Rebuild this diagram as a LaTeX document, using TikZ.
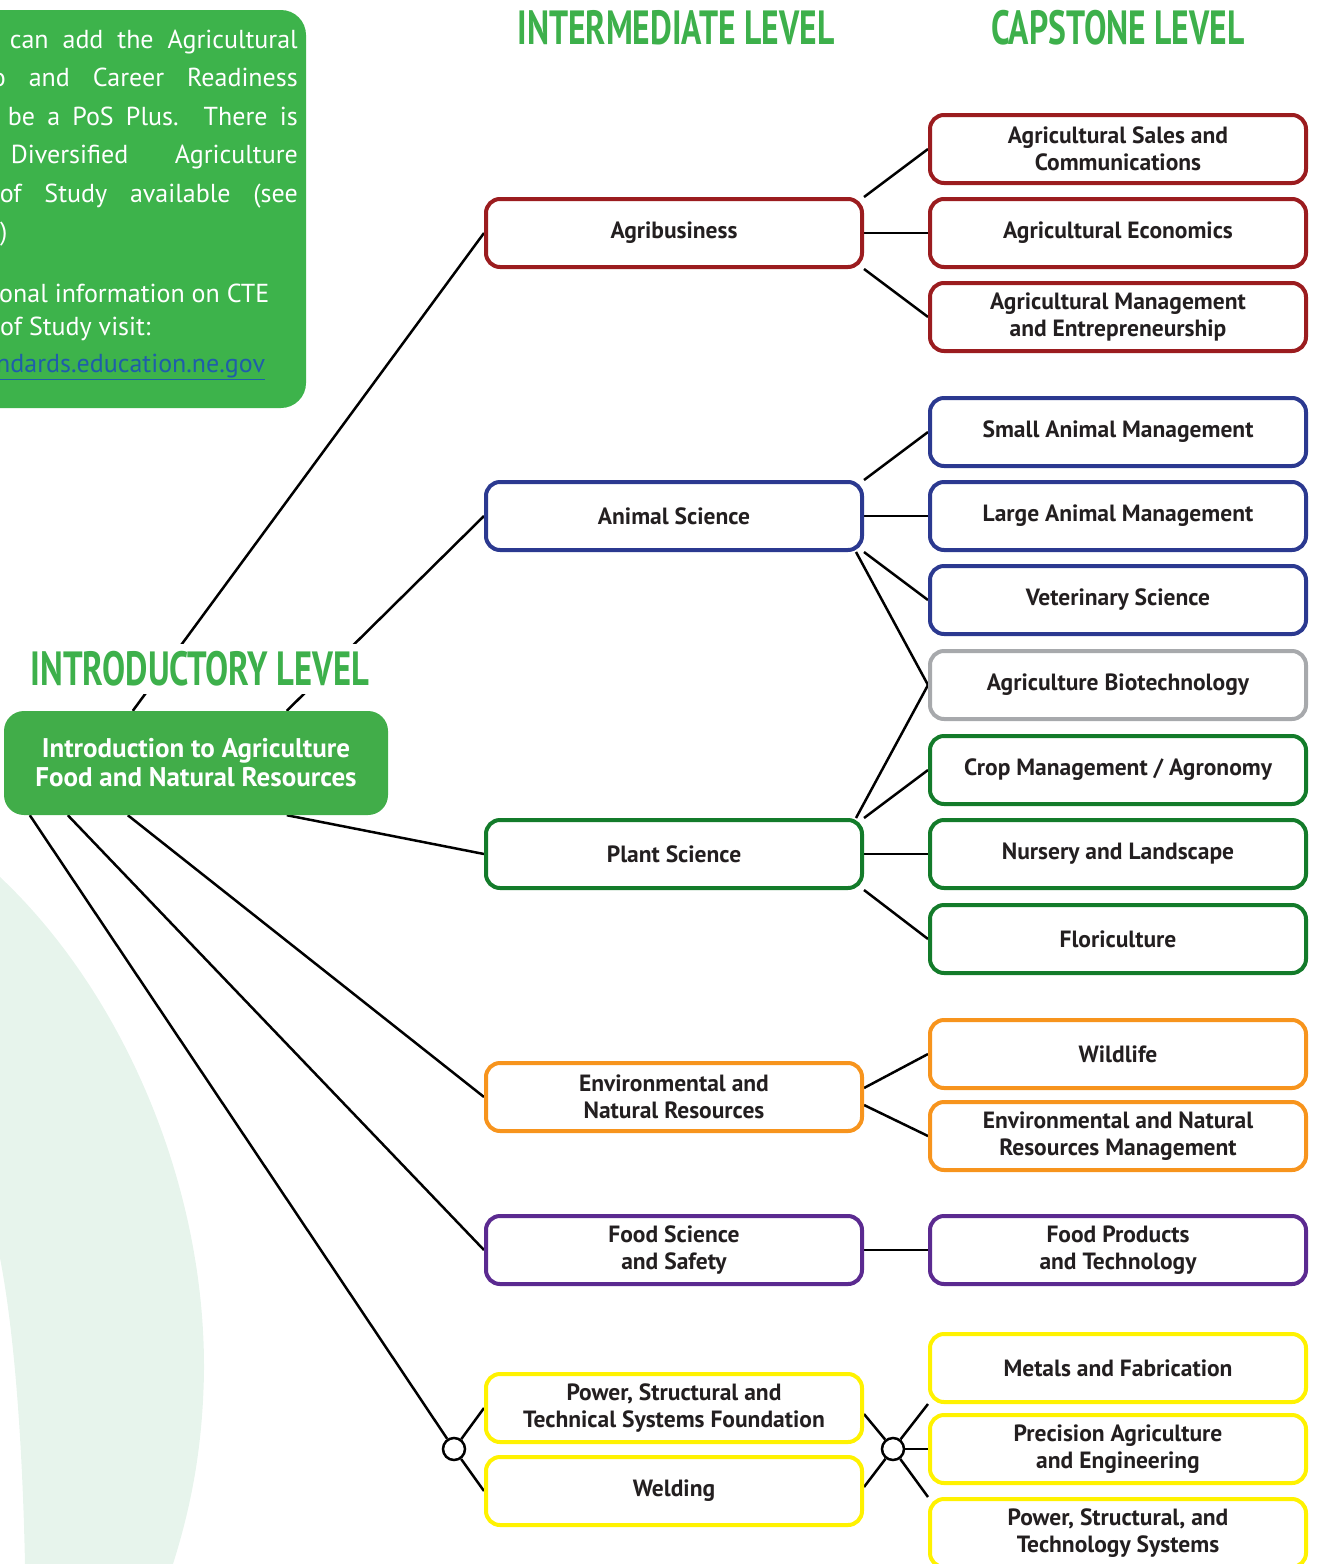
\documentclass[tikz,border=0pt]{standalone}
\usepackage{fontspec}
\setmainfont{PT Sans}
\newfontfamily\headfont[FakeStretch=0.7]{PT Sans}
\usetikzlibrary{shapes,backgrounds}

\definecolor{headgreen}{HTML}{3DB04B}
\definecolor{introgreen}{HTML}{41AD49}
\definecolor{infogreen}{HTML}{3DB34B}
\definecolor{arcgreen}{HTML}{E7F4EC}
\definecolor{textgray}{HTML}{231F20}
\definecolor{linkblue}{HTML}{1F5DAA}
\definecolor{agred}{HTML}{9B1C1F}
\definecolor{agblue}{HTML}{2B3990}
\definecolor{aggray}{HTML}{A7A9AC}
\definecolor{aggreen}{HTML}{137B2A}
\definecolor{agorange}{HTML}{F7941D}
\definecolor{agpurple}{HTML}{5B2A90}
\definecolor{agyellow}{HTML}{FFF200}

\pgfdeclarelayer{back}
\pgfdeclarelayer{links}
\pgfsetlayers{back,links,main}

\begin{document}
\begin{tikzpicture}[x=1pt, y=-1pt, node distance=84pt, auto]
        \tikzstyle{block} = [rectangle, draw, fill=white, line width=4pt, rounded corners=14pt, minimum width=376pt, minimum height=68pt, align=center, text=textgray, font=\fontsize{23.5}{27}\selectfont\bfseries]
        \tikzstyle{intro} = [rectangle, fill=introgreen, rounded corners=20pt, minimum width=384pt, minimum height=104pt, align=center, text=white, font=\fontsize{27}{29}\selectfont\bfseries]
        \tikzstyle{heading} = [text=headgreen, inner sep=0pt, font=\headfont\fontsize{48}{48}\selectfont\bfseries]
        \tikzstyle{info} = [text=white, inner sep=0pt, font=\fontsize{26}{30}\selectfont]
        \tikzstyle{junction} = [circle, draw, fill=white, line width=2.5pt, minimum size=22pt, inner sep=0pt]
        \tikzstyle{link} = [draw, line width=2.5pt]

    \useasboundingbox (0,0) rectangle (1317,1564);

    % background band and note box
    \begin{pgfonlayer}{back}
    \fill [arcgreen] (0,877) .. controls (120,990) and (205,1180) .. (204,1370) .. controls (203,1450) and (190,1510) .. (173,1564) -- (25,1564) .. controls (22,1420) and (12,1320) .. (0,1258) -- cycle;
    \end{pgfonlayer}
    \fill [infogreen, rounded corners=25pt] (-40,10) rectangle (306,408);

    \node [info, anchor=base east] (info 1) at (298,48) {\makebox[288pt][s]{can add the Agricultural}};
    \node [info, anchor=base east] (info 2) at (298,86) {\makebox[306pt][s]{o and Career Readiness}};
    \node [info, anchor=base east] (info 3) at (298,125) {\makebox[290pt][s]{be a PoS Plus. There is}};
    \node [info, anchor=base east] (info 4) at (298,163) {\makebox[287pt][s]{Diversified Agriculture}};
    \node [info, anchor=base east] (info 5) at (298,202) {\makebox[298pt][s]{of Study available (see}};
    \node [info, anchor=base west] (info 6) at (0,240) {)};
    \node [info, anchor=base west] (info 7) at (-1,302) {onal information on CTE};
    \node [info, anchor=base west] (info 8) at (0,335) {of Study visit:};
    \node [info, anchor=base west, text=linkblue] (info 9) at (-4,372) {\underline{ndards.education.ne.gov}};

    % levels
    \node [heading] (intermediate level) at (676,28) {INTERMEDIATE LEVEL};
    \node [heading] (capstone level) at (1118,28) {CAPSTONE LEVEL};
    \node [heading, fill=white, inner ysep=8pt, inner xsep=4pt, font=\headfont\fontsize{48}{48}\selectfont\bfseries\addfontfeature{FakeStretch=0.72}] (introductory level) at (200,669) {INTRODUCTORY LEVEL};

    \node [intro] (intro) at (196,763) {Introduction to Agriculture\\Food and Natural Resources};

    \node [block, draw=agred] (agribusiness) at (674,233) {Agribusiness};
    \node [block, draw=agblue, below of=agribusiness, node distance=283pt] (animal science) {Animal Science};
    \node [block, draw=aggreen, below of=animal science, node distance=338pt] (plant science) {Plant Science};
    \node [block, draw=agorange, below of=plant science, node distance=243pt] (environmental) {Environmental and\\Natural Resources};
    \node [block, draw=agpurple, below of=environmental, node distance=153pt] (food science) {Food Science\\and Safety};
    \node [block, draw=agyellow, below of=food science, node distance=158pt] (power foundation) {Power, Structural and\\Technical Systems Foundation};
    \node [block, draw=agyellow, below of=power foundation, node distance=83pt] (welding) {Welding};

    \node [block, draw=agred, right of=agribusiness, node distance=444pt] (ag economics) {Agricultural Economics};
    \node [block, draw=agred, above of=ag economics] (ag sales) {Agricultural Sales and\\Communications};
    \node [block, draw=agred, below of=ag economics] (ag management) {Agricultural Management\\and Entrepreneurship};

    \node [block, draw=agblue, right of=animal science, node distance=444pt] (large animal) {Large Animal Management};
    \node [block, draw=agblue, above of=large animal] (small animal) {Small Animal Management};
    \node [block, draw=agblue, below of=large animal] (veterinary) {Veterinary Science};

    \node [block, draw=aggreen, right of=plant science, node distance=444pt] (nursery) {Nursery and Landscape};
    \node [block, draw=aggreen, above of=nursery] (crop) {Crop Management / Agronomy};
    \node [block, draw=aggray, above of=crop, node distance=85pt] (biotechnology) {Agriculture Biotechnology};
    \node [block, draw=aggreen, below of=nursery, node distance=85pt] (floriculture) {Floriculture};

    \node [block, draw=agorange] (wildlife) at (1118,1054) {Wildlife};
    \node [block, draw=agorange, below of=wildlife, node distance=82pt] (env management) {Environmental and Natural\\Resources Management};

    \node [block, draw=agpurple, right of=food science, node distance=444pt] (food products) {Food Products\\and Technology};

    \node [junction] (left junction) at (454,1449) {};
    \node [junction] (right junction) at (893,1449) {};
    \node [block, draw=agyellow, right of=right junction, node distance=225pt] (precision) {Precision Agriculture\\and Engineering};
    \node [block, draw=agyellow, above of=precision, node distance=81pt] (metals) {Metals and Fabrication};
    \node [block, draw=agyellow, below of=precision] (power systems) {Power, Structural, and\\Technology Systems};

    \begin{pgfonlayer}{links}
    \path [link] ([xshift=129pt]intro.north west) -- (agribusiness.west);
    \path [link] ([xshift=283pt]intro.north west) -- (animal science.west);
    \path [link] ([xshift=283pt]intro.south west) -- (plant science.west);
    \path [link] ([xshift=124pt]intro.south west) -- (environmental.west);
    \path [link] ([xshift=64pt]intro.south west) -- (food science.west);
    \path [link] ([xshift=26pt]intro.south west) -- (left junction);
    \path [link] (left junction) -- (power foundation.west);
    \path [link] (left junction) -- (welding.west);

    \path [link] (agribusiness.north east) -- (ag sales.west);
    \path [link] (agribusiness.east) -- (ag economics.west);
    \path [link] (agribusiness.south east) -- (ag management.west);
    \path [link] (animal science.north east) -- (small animal.west);
    \path [link] (animal science.east) -- (large animal.west);
    \path [link] (animal science.south east) -- (veterinary.west);
    \path [link] ([xshift=-8pt]animal science.south east) -- (biotechnology.west);
    \path [link] ([xshift=-8pt]plant science.north east) -- (biotechnology.west);
    \path [link] (plant science.north east) -- (crop.west);
    \path [link] (plant science.east) -- (nursery.west);
    \path [link] (plant science.south east) -- (floriculture.west);
    \path [link] ([yshift=9pt]environmental.east) -- (wildlife.west);
    \path [link] ([yshift=-8pt]environmental.east) -- (env management.west);
    \path [link] (food science.east) -- (food products.west);
    \path [link] ([yshift=-6pt]power foundation.east) -- (right junction);
    \path [link] ([yshift=4pt]welding.east) -- (right junction);
    \path [link] (right junction) -- (metals.south west);
    \path [link] (right junction) -- (precision.west);
    \path [link] (right junction) -- (power systems.north west);
    \end{pgfonlayer}
    \end{tikzpicture}
\end{document}
